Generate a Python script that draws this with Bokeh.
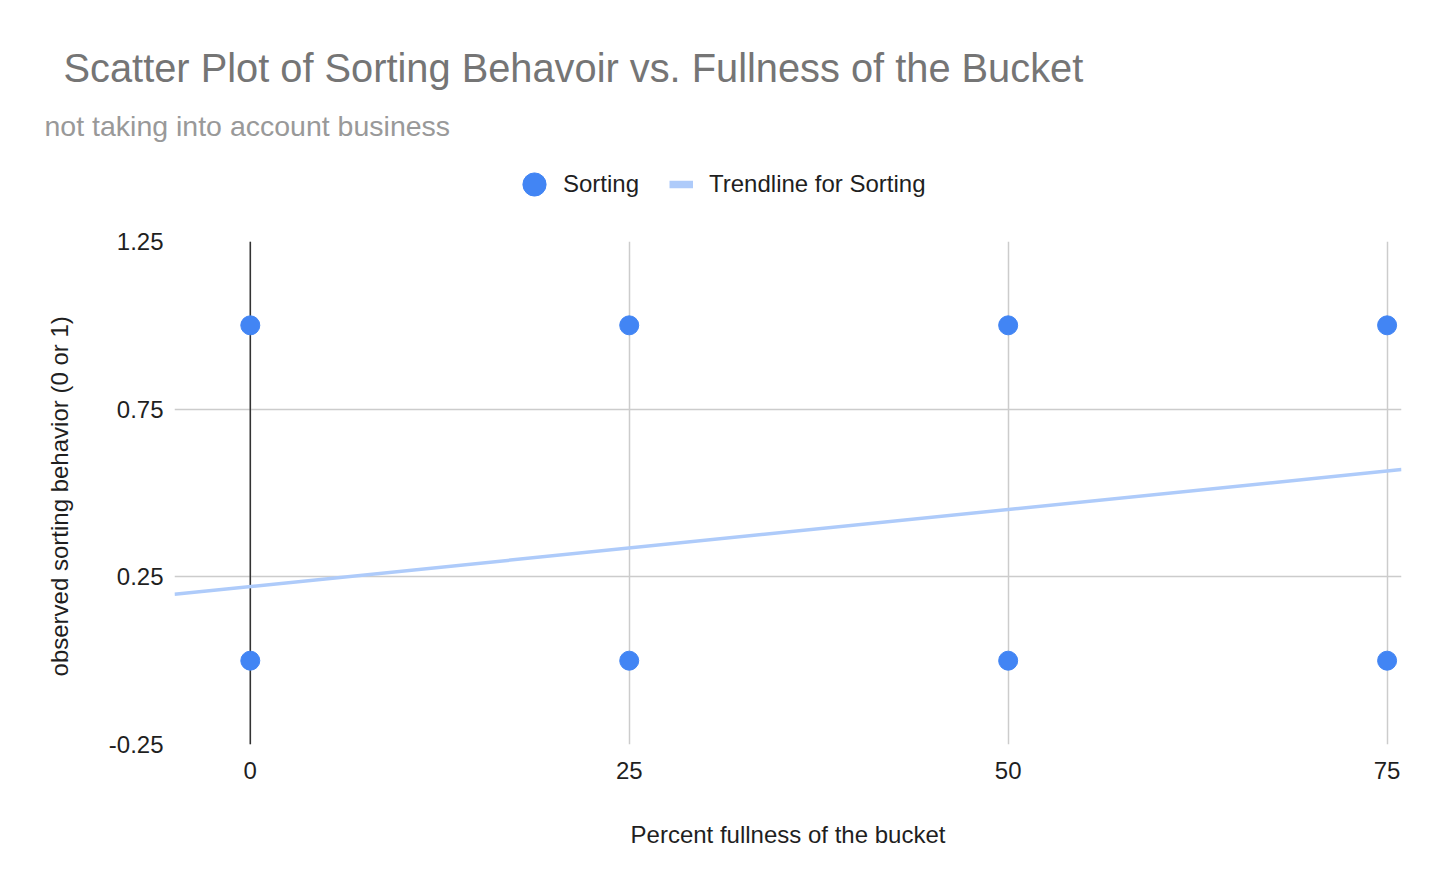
from bokeh.plotting import figure
from bokeh.layouts import column
from bokeh.models import Range1d, FixedTicker, Span, Label, Legend, LegendItem
from bokeh.embed import file_html
from bokeh.resources import INLINE

# ---- data ----
fullness = [0, 0, 25, 25, 50, 50, 75, 75]
sorting = [1, 0, 1, 0, 1, 0, 1, 0]
trend_x = [-5, 75.95]
trend_y = [0.198, 0.570]
x_ticks = [0, 25, 50, 75]
y_ticks = [-0.25, 0.25, 0.75, 1.25]
y_tick_labels = ["-0.25", "0.25", "0.75", "1.25"]

TITLE = "Scatter Plot of Sorting Behavoir vs. Fullness of the Bucket"
SUBTITLE = "not taking into account business"
FONT = "Liberation Sans"
PT_COLOR = "#4285f4"
TREND_COLOR = "#aecbfa"
TXT = "#1f1f1f"

W = 1446
HEAD_H = 221
MAIN_H = 669

# ---------- header: title, subtitle, legend ----------
# its ranges lie away from the data, so the legend-key renderers stay off screen
head = figure(width=W, height=HEAD_H, output_backend="svg", toolbar_location=None,
              title=None, x_axis_type=None, y_axis_type=None,
              x_range=Range1d(1000, 1001), y_range=Range1d(1000, 1001),
              min_border=0, min_border_left=0, min_border_right=0,
              min_border_top=0, min_border_bottom=0)
head.frame_align = False
head.outline_line_color = None
head.grid.visible = False

key_pts = head.scatter(fullness, sorting, fill_color=PT_COLOR, line_color=PT_COLOR)
key_trend = head.line(trend_x, trend_y, line_width=7.5, line_color=TREND_COLOR)

leg1 = Legend(items=[LegendItem(label="Sorting", renderers=[key_pts])],
              location=(505, 8), orientation="horizontal",
              glyph_width=58, glyph_height=58, label_standoff=0,
              padding=0, spacing=0, margin=0,
              border_line_color=None, background_fill_alpha=0,
              label_text_font=FONT, label_text_font_size="24px", label_text_color=TXT)
leg2 = Legend(items=[LegendItem(label="Trendline for Sorting", renderers=[key_trend])],
              location=(669, 22), orientation="horizontal",
              glyph_width=24, glyph_height=30, label_height=30, label_standoff=16,
              padding=0, spacing=0, margin=0,
              border_line_color=None, background_fill_alpha=0,
              label_text_font=FONT, label_text_font_size="24px", label_text_color=TXT)
head.add_layout(leg1)
head.add_layout(leg2)

head.add_layout(Label(x=63, y=HEAD_H - 67, x_units="screen", y_units="screen", text=TITLE,
                      text_font=FONT, text_font_size="39.8px", text_color="#757575",
                      text_baseline="alphabetic"))
head.add_layout(Label(x=44, y=HEAD_H - 125, x_units="screen", y_units="screen", text=SUBTITLE,
                      text_font=FONT, text_font_size="28.5px", text_color="#999999",
                      text_baseline="alphabetic"))

# ---------- main scatter plot ----------
p = figure(width=W, height=MAIN_H, output_backend="svg", toolbar_location=None,
           title=None,
           x_range=Range1d(-5, 75.95), y_range=Range1d(-0.25, 1.25),
           min_border_left=174, min_border_right=45,
           min_border_top=20, min_border_bottom=MAIN_H - 20 - 503)
p.frame_align = False
p.outline_line_color = None

for ax in (p.xaxis[0], p.yaxis[0]):
    ax.axis_line_color = None
    ax.major_tick_line_color = None
    ax.minor_tick_line_color = None
    ax.major_tick_out = 0
    ax.major_tick_in = 0
    ax.major_label_text_font = FONT
    ax.major_label_text_font_size = "24px"
    ax.major_label_text_color = TXT
    ax.axis_label_text_font = FONT
    ax.axis_label_text_font_size = "24px"
    ax.axis_label_text_font_style = "normal"
    ax.axis_label_text_color = TXT

p.xaxis.ticker = FixedTicker(ticks=x_ticks)
p.yaxis.ticker = FixedTicker(ticks=y_ticks)
p.yaxis.major_label_overrides = {t: s for t, s in zip(y_ticks, y_tick_labels)}
p.xaxis.axis_label = "Percent fullness of the bucket"
p.yaxis.axis_label = "observed  sorting behavior (0 or 1)"
p.xaxis.major_label_standoff = 17
p.yaxis.major_label_standoff = 11
p.xaxis.axis_label_standoff = 39
p.yaxis.axis_label_standoff = 33

p.grid.grid_line_color = "#cccccc"
p.grid.grid_line_width = 1.5
p.xgrid.ticker = FixedTicker(ticks=x_ticks)
p.ygrid.ticker = FixedTicker(ticks=y_ticks)

p.add_layout(Span(location=0, dimension="height", line_color="#333333",
                  line_width=1.5, level="underlay"))

p.line(trend_x, trend_y, line_width=3.5, line_color=TREND_COLOR)
p.scatter(fullness, sorting, size=19, fill_color=PT_COLOR, line_color=PT_COLOR)

layout = column(head, p, spacing=0)
open("out.html", "w").write(file_html(layout, INLINE))
